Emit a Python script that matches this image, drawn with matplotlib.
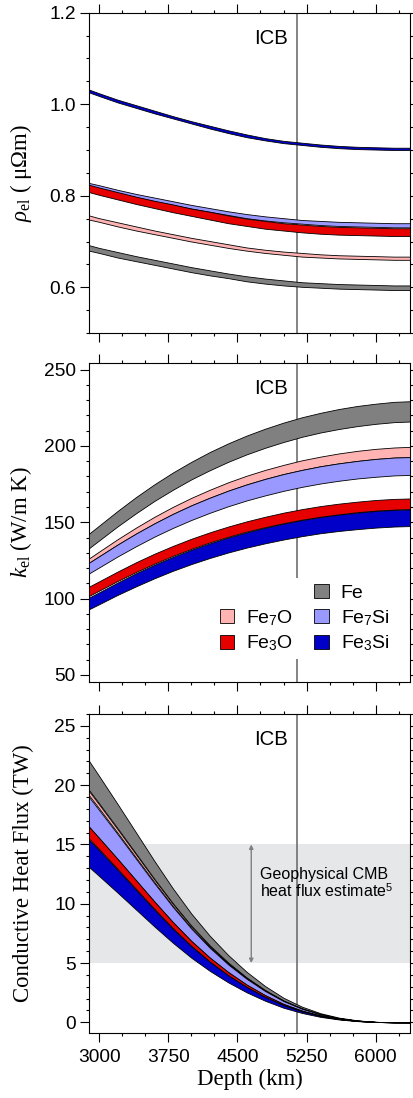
import matplotlib.pyplot as plt
from matplotlib.patches import Patch
from matplotlib.ticker import MultipleLocator, FormatStrFormatter

plt.rcParams['font.family'] = ['Liberation Sans', 'DejaVu Sans']
plt.rcParams['mathtext.fontset'] = 'custom'
plt.rcParams['mathtext.rm'] = 'Liberation Serif'
plt.rcParams['mathtext.it'] = 'Liberation Serif:italic'
plt.rcParams['mathtext.sf'] = 'Liberation Sans'

# depth grid (km), CMB to centre
depth = [2890, 3000, 3200, 3400, 3600, 3800, 4000, 4200, 4400, 4600,
         4800, 5000, 5200, 5400, 5600, 5800, 6000, 6200, 6371]
icb_depth = 5150

# electrical resistivity (micro-ohm m), upper / lower edge of each band
rho_fe_hi = [.692, .686, .677, .668, .660, .652, .644, .637, .630, .624, .619, .615, .611, .609, .607, .606, .605, .604, .604]
rho_fe_lo = [.680, .675, .665, .657, .649, .641, .633, .626, .620, .613, .608, .604, .601, .599, .597, .596, .595, .594, .594]
rho_fe7o_hi = [.757, .751, .742, .733, .724, .716, .708, .701, .694, .687, .682, .678, .675, .672, .670, .669, .668, .667, .667]
rho_fe7o_lo = [.748, .743, .733, .724, .716, .708, .700, .693, .686, .680, .675, .671, .667, .665, .663, .662, .661, .660, .660]
rho_fe7si_hi = [.828, .823, .813, .804, .796, .788, .780, .773, .766, .760, .755, .751, .747, .745, .743, .742, .741, .740, .740]
rho_fe7si_lo = [.821, .815, .806, .797, .788, .780, .772, .765, .758, .751, .746, .742, .739, .736, .734, .733, .732, .731, .731]
rho_fe3o_hi = [.824, .818, .808, .798, .789, .781, .772, .765, .757, .750, .745, .740, .737, .734, .732, .731, .730, .729, .729]
rho_fe3o_lo = [.808, .802, .792, .782, .773, .764, .756, .748, .740, .734, .728, .724, .720, .717, .715, .714, .713, .712, .712]
rho_fe3si_hi = [1.032, 1.024, 1.010, .998, .986, .974, .963, .953, .943, .934, .926, .920, .916, .912, .909, .907, .906, .905, .905]
rho_fe3si_lo = [1.026, 1.018, 1.004, .992, .980, .969, .958, .947, .937, .928, .921, .915, .911, .907, .904, .902, .901, .900, .900]

# thermal conductivity (W/m K)
k_fe_hi = [142.5, 147.8, 157.4, 166.5, 174.9, 182.6, 189.6, 196.0, 201.7, 206.8, 211.3, 215.3, 218.8, 221.7, 224.2, 226.2, 227.7, 228.9, 229.3]
k_fe_lo = [133.0, 138.1, 147.3, 155.9, 164.0, 171.3, 178.1, 184.1, 189.6, 194.5, 198.8, 202.6, 206.0, 208.8, 211.1, 213.0, 214.5, 215.6, 216.0]
k_fe7o_hi = [126.3, 130.8, 138.9, 146.5, 153.6, 160.1, 166.0, 171.3, 176.2, 180.5, 184.3, 187.6, 190.6, 193.0, 195.1, 196.8, 198.1, 199.0, 199.4]
k_fe7o_lo = [123.5, 127.7, 135.4, 142.6, 149.3, 155.5, 161.1, 166.1, 170.7, 174.8, 178.4, 181.6, 184.3, 186.7, 188.6, 190.2, 191.5, 192.4, 192.7]
k_fe7si_hi = [123.5, 127.7, 135.4, 142.6, 149.3, 155.5, 161.1, 166.1, 170.7, 174.8, 178.4, 181.6, 184.3, 186.7, 188.6, 190.2, 191.5, 192.4, 192.7]
k_fe7si_lo = [116.5, 120.4, 127.6, 134.3, 140.6, 146.3, 151.5, 156.2, 160.5, 164.3, 167.6, 170.6, 173.2, 175.4, 177.2, 178.7, 179.8, 180.7, 181.0]
k_fe3o_hi = [107.8, 111.3, 117.7, 123.8, 129.4, 134.5, 139.2, 143.4, 147.2, 150.6, 153.6, 156.3, 158.6, 160.6, 162.2, 163.5, 164.6, 165.3, 165.6]
k_fe3o_lo = [101.7, 105.2, 111.5, 117.4, 122.9, 128.0, 132.6, 136.8, 140.5, 143.9, 146.8, 149.4, 151.7, 153.6, 155.2, 156.6, 157.6, 158.3, 158.6]
k_fe3si_hi = [100.6, 104.1, 110.5, 116.6, 122.2, 127.3, 132.0, 136.2, 140.0, 143.4, 146.4, 149.1, 151.4, 153.4, 155.0, 156.3, 157.4, 158.1, 158.4]
k_fe3si_lo = [93.0, 96.3, 102.4, 108.0, 113.3, 118.2, 122.6, 126.6, 130.2, 133.4, 136.2, 138.7, 140.9, 142.8, 144.3, 145.5, 146.5, 147.2, 147.5]

# conductive heat flux (TW)
q_fe_hi = [22.05, 20.77, 18.41, 16.01, 13.60, 11.29, 9.17, 7.30, 5.67, 4.26, 3.06, 2.07, 1.32, 0.77, 0.40, 0.17, 0.04, 0.01, 0.0]
q_fe_lo = [19.6, 18.46, 16.37, 14.23, 12.09, 10.04, 8.15, 6.49, 5.04, 3.78, 2.72, 1.84, 1.18, 0.69, 0.35, 0.15, 0.04, 0.01, 0.0]
q_fe7o_hi = [19.5, 18.37, 16.28, 14.16, 12.03, 9.98, 8.11, 6.45, 5.01, 3.76, 2.71, 1.83, 1.17, 0.68, 0.35, 0.15, 0.04, 0.01, 0.0]
q_fe7o_lo = [19.15, 18.04, 15.99, 13.90, 11.82, 9.80, 7.97, 6.34, 4.92, 3.70, 2.66, 1.80, 1.15, 0.67, 0.34, 0.14, 0.04, 0.01, 0.0]
q_fe7si_hi = [19.0, 17.90, 15.87, 13.79, 11.72, 9.73, 7.90, 6.29, 4.88, 3.67, 2.64, 1.79, 1.14, 0.67, 0.34, 0.14, 0.04, 0.01, 0.0]
q_fe7si_lo = [16.5, 15.54, 13.78, 11.98, 10.18, 8.45, 6.86, 5.46, 4.24, 3.18, 2.29, 1.55, 0.99, 0.58, 0.30, 0.12, 0.03, 0.0, 0.0]
q_fe3o_hi = [16.5, 15.54, 13.78, 11.98, 10.18, 8.45, 6.86, 5.46, 4.24, 3.18, 2.29, 1.55, 0.99, 0.58, 0.30, 0.12, 0.03, 0.0, 0.0]
q_fe3o_lo = [15.5, 14.60, 12.94, 11.25, 9.56, 7.94, 6.45, 5.13, 3.98, 2.99, 2.15, 1.46, 0.93, 0.54, 0.28, 0.12, 0.03, 0.0, 0.0]
q_fe3si_hi = [15.4, 14.51, 12.86, 11.18, 9.50, 7.88, 6.41, 5.10, 3.96, 2.97, 2.14, 1.45, 0.92, 0.54, 0.28, 0.12, 0.03, 0.0, 0.0]
q_fe3si_lo = [13.1, 12.34, 10.94, 9.51, 8.08, 6.71, 5.45, 4.34, 3.37, 2.53, 1.82, 1.23, 0.79, 0.46, 0.24, 0.10, 0.03, 0.0, 0.0]

geo_flux = [5, 15]
geo_depth = 4650

names = ['Fe', 'Fe$_{\\mathsf{7}}$O', 'Fe$_{\\mathsf{7}}$Si', 'Fe$_{\\mathsf{3}}$O', 'Fe$_{\\mathsf{3}}$Si']
colors = ['#808080', '#ffb3b3', '#9999ff', '#e60000', '#0000c8']

rho_bands = [(rho_fe_hi, rho_fe_lo), (rho_fe7o_hi, rho_fe7o_lo), (rho_fe7si_hi, rho_fe7si_lo),
             (rho_fe3o_hi, rho_fe3o_lo), (rho_fe3si_hi, rho_fe3si_lo)]
k_bands = [(k_fe_hi, k_fe_lo), (k_fe7o_hi, k_fe7o_lo), (k_fe7si_hi, k_fe7si_lo),
           (k_fe3o_hi, k_fe3o_lo), (k_fe3si_hi, k_fe3si_lo)]
q_bands = [(q_fe_hi, q_fe_lo), (q_fe7o_hi, q_fe7o_lo), (q_fe7si_hi, q_fe7si_lo),
           (q_fe3o_hi, q_fe3o_lo), (q_fe3si_hi, q_fe3si_lo)]

fig = plt.figure(figsize=(4.13, 10.98), dpi=100)
ax1 = fig.add_axes([0.2155, 0.6967, 0.777, 0.2917])
ax2 = fig.add_axes([0.2155, 0.3791, 0.777, 0.2905])
ax3 = fig.add_axes([0.2155, 0.0592, 0.777, 0.2905])

serif = 'Liberation Serif'
lab_size = 16.4

for ax, bands in [(ax1, rho_bands), (ax2, k_bands), (ax3, q_bands)]:
    ax.axvline(icb_depth, color='#707070', lw=1.2, zorder=1)
    for (hi, lo), c in zip(bands, colors):
        ax.fill_between(depth, lo, hi, facecolor=c, edgecolor='black', lw=0.6, zorder=3)
    ax.annotate('ICB', xy=(icb_depth, 0.92), xycoords=('data', 'axes fraction'),
                xytext=(-7, 0), textcoords='offset points', ha='right', va='center', fontsize=14.7)
    ax.set_xlim(2890, 6371)
    ax.xaxis.set_major_locator(MultipleLocator(750))
    ax.xaxis.set_minor_locator(MultipleLocator(250))
    ax.tick_params(which='both', direction='out', top=True, right=True, width=0.8, labelsize=13.8)
    ax.tick_params(which='major', length=6.5)
    ax.tick_params(which='minor', length=2.5)
    ax.tick_params(axis='y', pad=3)
    ax.tick_params(axis='x', pad=5)
    for s in ax.spines.values():
        s.set_linewidth(0.8)
    ax.yaxis.set_label_coords(-0.172, 0.5)

ax1.set_ylim(0.5, 1.2)
ax1.yaxis.set_major_locator(MultipleLocator(0.2))
ax1.yaxis.set_minor_locator(MultipleLocator(0.05))
ax1.yaxis.set_major_formatter(FormatStrFormatter('%.1f'))
ax1.set_ylabel(r'$\rho_{\mathrm{el}}$ ( μΩm)', fontfamily=serif, fontsize=lab_size)
ax1.tick_params(axis='x', labelbottom=False)

ax2.set_ylim(45.5, 254.5)
ax2.yaxis.set_major_locator(MultipleLocator(50))
ax2.yaxis.set_minor_locator(MultipleLocator(10))
ax2.set_ylabel(r'$k_{\mathrm{el}}$ (W/m K)', fontfamily=serif, fontsize=lab_size)
ax2.tick_params(axis='x', labelbottom=False)

blank = Patch(facecolor='none', edgecolor='none')
handles = [blank,
           Patch(facecolor=colors[1], edgecolor='black', lw=0.6),
           Patch(facecolor=colors[3], edgecolor='black', lw=0.6),
           Patch(facecolor=colors[0], edgecolor='black', lw=0.6),
           Patch(facecolor=colors[2], edgecolor='black', lw=0.6),
           Patch(facecolor=colors[4], edgecolor='black', lw=0.6)]
labels = ['', names[1], names[3], names[0], names[2], names[4]]
leg = ax2.legend(handles, labels, ncol=2, loc='lower right', bbox_to_anchor=(0.985, 0.04),
                 fontsize=14, frameon=True, framealpha=1, edgecolor='none', facecolor='white',
                 handlelength=0.75, handleheight=0.75, handletextpad=0.6, columnspacing=1.1,
                 labelspacing=0.32, borderpad=0.3, fancybox=False)
leg.set_zorder(5)

ax3.set_ylim(-0.9, 26)
ax3.yaxis.set_major_locator(MultipleLocator(5))
ax3.yaxis.set_minor_locator(MultipleLocator(1))
ax3.axhspan(geo_flux[0], geo_flux[1], color='#e6e7e9', lw=0, zorder=0)
ax3.annotate('', xy=(geo_depth, geo_flux[1]), xytext=(geo_depth, geo_flux[0]),
             arrowprops=dict(arrowstyle='<|-|>', color='#808080', lw=1, mutation_scale=6,
                             shrinkA=0, shrinkB=0), zorder=2)
ax3.text(4740, 11.7, 'Geophysical CMB\nheat flux estimate$^{\\mathsf{5}}$', fontsize=11.5,
         ha='left', va='center', linespacing=1.0, zorder=2)
ax3.set_ylabel('Conductive Heat Flux (TW)', fontfamily=serif, fontsize=lab_size)
ax3.set_xlabel('Depth (km)', fontfamily=serif, fontsize=lab_size, labelpad=2)

# right-hand ticks are all short in the original
for ax in (ax1, ax2, ax3):
    for t in ax.yaxis.get_major_ticks():
        t.tick2line.set_markersize(2.5)

fig.savefig('out.png', dpi=100)
